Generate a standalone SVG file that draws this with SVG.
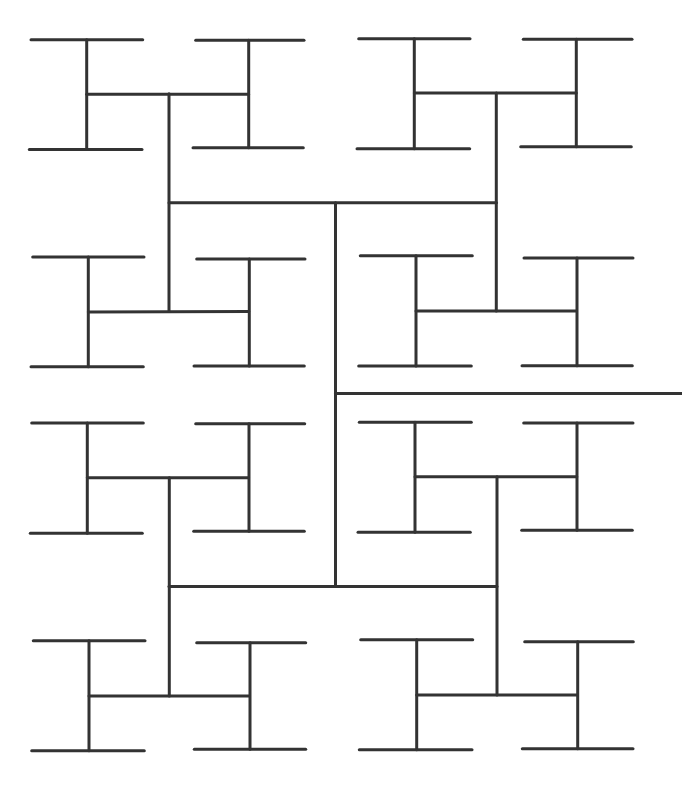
<svg xmlns="http://www.w3.org/2000/svg" width="682" height="786" viewBox="0 0 682 786">
<style>
line{stroke:#333;stroke-width:3;stroke-linecap:round;fill:none}
</style>
<rect width="682" height="786" fill="#fff"/>
<g id="trunk">
<line x1="335.5" y1="393.5" x2="682" y2="393.5"/>
<line x1="335.5" y1="202.7" x2="335.5" y2="586.5"/>
<line x1="169" y1="202.7" x2="496.5" y2="202.7"/>
<line x1="169" y1="586.5" x2="497" y2="586.5"/>
<line x1="169" y1="93.8" x2="169" y2="311.5"/>
<line x1="496.3" y1="93" x2="496.3" y2="311"/>
<line x1="169.3" y1="477.7" x2="169.3" y2="696"/>
<line x1="497" y1="476.7" x2="497" y2="695"/>
<line x1="86.7" y1="94.3" x2="248.5" y2="94.3"/>
<line x1="88.3" y1="312" x2="248.8" y2="311.5"/>
<line x1="414.3" y1="93" x2="576.3" y2="93"/>
<line x1="416" y1="311" x2="576.5" y2="311"/>
<line x1="87.3" y1="477.7" x2="248.5" y2="477.7"/>
<line x1="89" y1="696" x2="249.5" y2="696"/>
<line x1="415" y1="476.7" x2="576.8" y2="476.7"/>
<line x1="416.7" y1="695" x2="577.5" y2="695"/>
</g>
<g id="h1"><line x1="31" y1="39.7" x2="142.7" y2="39.7"/><line x1="86.7" y1="39.7" x2="86.7" y2="149.5"/><line x1="29.3" y1="149.5" x2="142" y2="149.5"/></g>
<g id="h2"><line x1="195.7" y1="40.3" x2="304" y2="40.3"/><line x1="248.7" y1="40.3" x2="248.7" y2="147.7"/><line x1="193" y1="147.7" x2="303.3" y2="147.7"/></g>
<g id="h3"><line x1="32.7" y1="257" x2="144" y2="257"/><line x1="88.3" y1="257" x2="88.3" y2="366.7"/><line x1="31" y1="366.7" x2="143.3" y2="366.7"/></g>
<g id="h4"><line x1="196.7" y1="259" x2="305" y2="259"/><line x1="249.3" y1="259" x2="249.3" y2="366"/><line x1="194" y1="366" x2="304.3" y2="366"/></g>
<g id="h5"><line x1="31.7" y1="423" x2="143.3" y2="423"/><line x1="87.3" y1="423" x2="87.3" y2="533.3"/><line x1="30.3" y1="533.3" x2="142.3" y2="533.3"/></g>
<g id="h6"><line x1="195.7" y1="423.7" x2="304.7" y2="423.7"/><line x1="249" y1="423.7" x2="249" y2="531.3"/><line x1="193.7" y1="531.3" x2="304.3" y2="531.3"/></g>
<g id="h7"><line x1="33.3" y1="640.7" x2="145" y2="640.7"/><line x1="89" y1="640.7" x2="89" y2="750.7"/><line x1="31.7" y1="750.7" x2="144.3" y2="750.7"/></g>
<g id="h8"><line x1="196.7" y1="642.7" x2="305.7" y2="642.7"/><line x1="250" y1="642.7" x2="250" y2="749.3"/><line x1="194.3" y1="749.3" x2="305.7" y2="749.3"/></g>
<g id="h9"><line x1="358.7" y1="38.7" x2="470" y2="38.7"/><line x1="414.3" y1="38.7" x2="414.3" y2="148.7"/><line x1="357" y1="148.7" x2="469.7" y2="148.7"/></g>
<g id="h10"><line x1="523.3" y1="39.3" x2="632" y2="39.3"/><line x1="576.3" y1="39.3" x2="576.3" y2="146.7"/><line x1="520.7" y1="146.7" x2="631.3" y2="146.7"/></g>
<g id="h11"><line x1="360.3" y1="255.7" x2="472.3" y2="255.7"/><line x1="416" y1="255.7" x2="416" y2="366"/><line x1="358.7" y1="366" x2="471.3" y2="366"/></g>
<g id="h12"><line x1="524" y1="258" x2="633" y2="258"/><line x1="577" y1="258" x2="577" y2="365.7"/><line x1="522" y1="365.7" x2="632.3" y2="365.7"/></g>
<g id="h13"><line x1="359.3" y1="422.3" x2="471.3" y2="422.3"/><line x1="415" y1="422.3" x2="415" y2="532.3"/><line x1="358" y1="532.3" x2="470.3" y2="532.3"/></g>
<g id="h14"><line x1="523.7" y1="423" x2="633" y2="423"/><line x1="577" y1="423" x2="577" y2="530.3"/><line x1="521.7" y1="530.3" x2="632.3" y2="530.3"/></g>
<g id="h15"><line x1="360.7" y1="639.7" x2="472.7" y2="639.7"/><line x1="416.7" y1="639.7" x2="416.7" y2="749.7"/><line x1="359.3" y1="749.7" x2="472" y2="749.7"/></g>
<g id="h16"><line x1="524.7" y1="641.7" x2="633.3" y2="641.7"/><line x1="577.7" y1="641.7" x2="577.7" y2="748.7"/><line x1="522.3" y1="748.7" x2="633" y2="748.7"/></g>
</svg>
